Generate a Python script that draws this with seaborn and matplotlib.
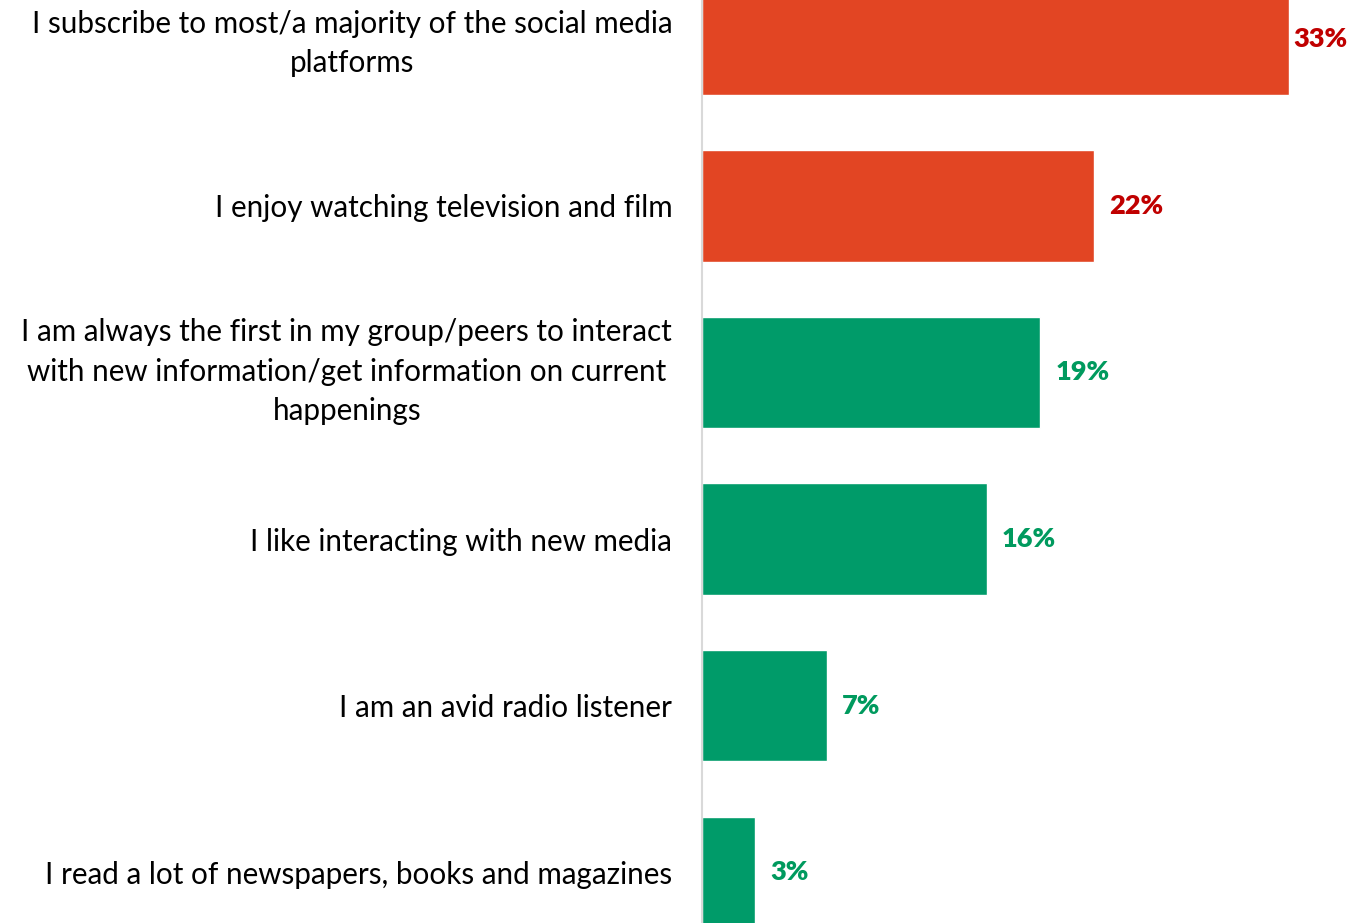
import matplotlib
matplotlib.use("Agg")
import matplotlib.pyplot as plt
import matplotlib.transforms as mtransforms
import seaborn as sns
import pandas as pd

categories = [
    "I subscribe to most/a majority of the social media\nplatforms",
    "I enjoy watching television and film",
    "I am always the first in my group/peers to interact\nwith new information/get information on current\nhappenings",
    "I like interacting with new media",
    "I am an avid radio listener",
    "I read a lot of newspapers, books and magazines",
]
values = [33, 22, 19, 16, 7, 3]
bar_colors = ["#E24523", "#E24523", "#009B69", "#009B69", "#009B69", "#009B69"]
label_colors = ["#C00000", "#C00000", "#009A5E", "#009A5E", "#009A5E", "#009A5E"]

sns.set_style("white")
plt.rcParams["font.family"] = ["Lato", "DejaVu Sans"]

df = pd.DataFrame({"category": categories, "value": values})

fig = plt.figure(figsize=(13.66, 9.23), dpi=100)
ax = fig.add_axes([702 / 1366, 0, 1 - 702 / 1366, 1])

sns.barplot(data=df, x="value", y="category", hue="category",
            palette=bar_colors, legend=False, width=0.667, ax=ax,
            saturation=1)

xmax = 37.3
ax.set_xlim(0, xmax)
ax.set_ylim(5.306, -0.237)
ax.set_xlabel("")
ax.set_ylabel("")
ax.set_xticks([])

for s in ["top", "right", "bottom"]:
    ax.spines[s].set_visible(False)
ax.spines["left"].set_color("#D9D9D9")
ax.spines["left"].set_linewidth(1.5)

ax.tick_params(axis="y", length=0, pad=21.5, labelsize=21.3, labelcolor="black")
for lab in ax.get_yticklabels():
    lab.set_multialignment("center")
    lab.set_linespacing(1.5)
    nlines = lab.get_text().count("\n")
    if nlines:
        # nudge wrapped labels up so their block is centred on the bar
        shift = mtransforms.ScaledTranslation(0, 3.2 * nlines / 72, fig.dpi_scale_trans)
        lab.set_transform(lab.get_transform() + shift)

for i, (v, c) in enumerate(zip(values, label_colors)):
    # keep the value label inside the plot when the bar is near the edge
    offset = 11 if v < xmax * 0.85 else 3
    ax.annotate(f"{v}%", xy=(v, i), xytext=(offset, 0), textcoords="offset points",
                va="center", ha="left", fontsize=19.5, fontweight="heavy", color=c)

fig.savefig("out.png", dpi=100)
